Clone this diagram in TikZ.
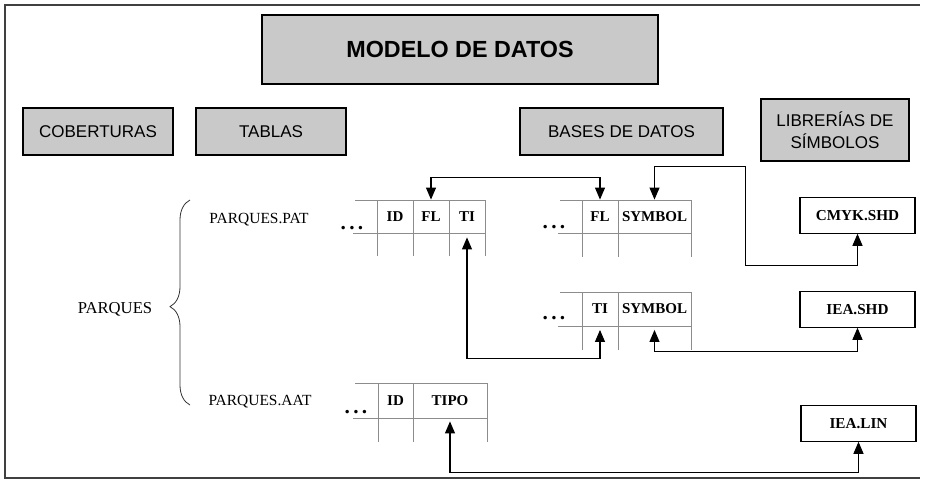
\documentclass[tikz,border=0pt]{standalone}
\usepackage{fontspec}
\setmainfont{Liberation Serif}
\setsansfont{Liberation Sans}
\usetikzlibrary{arrows.meta,decorations.pathreplacing}

\begin{document}
\begin{tikzpicture}[x=0.75pt, y=-0.75pt,
  hdr/.style={draw, line width=1.1pt, fill=gray!42, align=center,
              font=\sffamily\fontsize{12.75}{16.5}\selectfont, minimum height=35.25pt},
  lib/.style={draw, line width=0.9pt, fill=white, minimum width=86.25pt, minimum height=26.5pt,
              font=\bfseries\fontsize{11.4}{13}\selectfont},
  cell/.style={inner sep=0pt, minimum height=25pt, font=\bfseries\fontsize{11.25}{13}\selectfont},
  lbl/.style={anchor=base, font=\fontsize{11.6}{13}\selectfont},
  more/.style={inner sep=1pt, font=\bfseries\fontsize{16}{18}\selectfont},
  tline/.style={draw=black!45, line width=0.7pt},
  link/.style={<->, line width=0.8pt},
  >={Triangle[width=7.5pt,length=9pt]}
]
  \useasboundingbox (0,0) rectangle (925,480);
  % frame (open on the right)
  \draw[line width=0.9pt, black!75] (920,5) -- (5,5) -- (5,478) -- (920,478);
  % headings
  \node[hdr, minimum width=297pt, minimum height=51.75pt,
        font=\sffamily\bfseries\fontsize{17.5}{20}\selectfont] (modelo) at (460,49.5) {MODELO DE DATOS};
  \node[hdr, minimum width=112.5pt]  (cob)   at (98,131.5)    {COBERTURAS};
  \node[hdr, minimum width=112.5pt]  (tab)   at (271,131.5)   {TABLAS};
  \node[hdr, minimum width=152.25pt] (bases) at (621.5,131.5) {BASES DE DATOS};
  \node[hdr, minimum width=111pt, minimum height=46.5pt] (libs) at (835,130) {LIBRERÍAS DE\\SÍMBOLOS};
  % coverage and its two tables
  \node[lbl, font=\fontsize{12.5}{14}\selectfont] (parques) at (115,313) {PARQUES};
  \node[lbl] (pat) at (259,223) {PARQUES.PAT};
  \node[lbl] (aat) at (260,405) {PARQUES.AAT};
  \coordinate (btop) at (190,200);
  \coordinate (bbot) at (190,405);
  \draw[decorate, decoration={brace, amplitude=15pt, aspect=0.48}, line width=0.6pt, black!80] (bbot) -- (btop);
  % PARQUES.PAT
  \foreach \x in {377,413,449,485} \draw[tline] (\x,200) -- (\x,256);
  \draw[tline] (355,200) -- (485,200);
  \draw[tline] (353,233) -- (485,233);
  \node[more] (d1) at (352,228) {.\hspace{2.5pt}.\hspace{2.5pt}.};
  \node[cell, minimum width=27pt] (id1) at (395,216.5) {ID};
  \node[cell, minimum width=27pt] (fl1) at (431,216.5) {FL};
  \node[cell, minimum width=27pt] (ti1) at (467,216.5) {TI};
  % FL / SYMBOL
  \foreach \x in {582,618,691} \draw[tline] (\x,200) -- (\x,257);
  \draw[tline] (560,200) -- (691,200);
  \draw[tline] (558,233) -- (691,233);
  \node[more] (d2) at (554,227) {.\hspace{2.5pt}.\hspace{2.5pt}.};
  \node[cell, minimum width=27pt]    (fl2) at (600,216.5)   {FL};
  \node[cell, minimum width=54.75pt] (sy2) at (654.5,216.5) {SYMBOL};
  % TI / SYMBOL
  \foreach \x in {582,618,691} \draw[tline] (\x,292) -- (\x,350);
  \draw[tline] (560,292) -- (691,292);
  \draw[tline] (558,326) -- (691,326);
  \node[more] (d3) at (554,318) {.\hspace{2.5pt}.\hspace{2.5pt}.};
  \node[cell, minimum width=27pt]    (ti3) at (600,309)   {TI};
  \node[cell, minimum width=54.75pt] (sy3) at (654.5,309) {SYMBOL};
  % PARQUES.AAT
  \foreach \x in {378,413,487} \draw[tline] (\x,383) -- (\x,442);
  \draw[tline] (355,383) -- (487,383);
  \draw[tline] (353,418) -- (487,418);
  \node[more] (d4) at (356,412) {.\hspace{2.5pt}.\hspace{2.5pt}.};
  \node[cell, minimum width=26.25pt] (id4)  at (395.5,400.5) {ID};
  \node[cell, minimum width=55.5pt]  (tipo) at (450,400.5)   {TIPO};
  % symbol libraries
  \node[lib] (cmyk)   at (857.5,215.5) {CMYK.SHD};
  \node[lib] (ieashd) at (857.5,309.5) {IEA.SHD};
  \node[lib] (iealin) at (858.5,423.5) {IEA.LIN};
  % links
  \draw[link] (fl1.north) -- ++(0,-22) -| (fl2.north);
  \draw[link] (sy2.north) -- ++(0,-33) -| ++(91,99) -| (cmyk.south);
  \draw[link] ([yshift=-3pt]ti1.south) -- ++(0,121) -| ([yshift=-3pt]ti3.south);
  \draw[link] ([yshift=-3pt]sy3.south) -- ++(0,22) -| (ieashd.south);
  \draw[link] ([yshift=-3pt]tipo.south) -- ++(0,51) -| (iealin.south);
\end{tikzpicture}
\end{document}
